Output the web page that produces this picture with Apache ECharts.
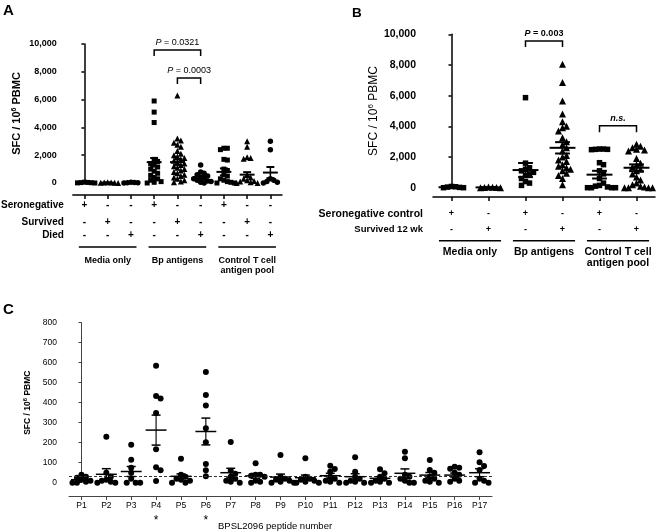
<!DOCTYPE html>
<html><head><meta charset="utf-8">
<script src="https://cdn.jsdelivr.net/npm/echarts@6/dist/echarts.min.js"></script>
<style>html,body{margin:0;padding:0;background:#fff}#c{width:660px;height:532px}</style>
</head><body><div id="c"></div>
<script>
// ---------- DATA ----------
// Panel A
const aRowNames = ['Seronegative', 'Survived', 'Died'];
const aRowSero = ['+', '-', '-', '+', '-', '-', '+', '-', '-'];
const aRowSurv = ['-', '+', '-', '-', '+', '-', '-', '+', '-'];
const aRowDied = ['-', '-', '+', '-', '-', '+', '-', '-', '+'];
const aGroups = ['Media only', 'Bp antigens', 'Control T cell\nantigen pool'];
const aSymbols = ['rect', 'triangle', 'circle', 'rect', 'triangle', 'circle', 'rect', 'triangle', 'circle'];
const aValues = [
  [60, 40, 30, 20, 10, 0],
  [50, 40, 30, 20, 10, 0],
  [50, 30, 20, 10, 0],
  [5900, 5100, 4350, 1700, 1550, 1400, 1300, 1150, 1000, 850, 700, 550, 400, 300, 200, 100, 50, 0],
  [6300, 3200, 3050, 2900, 2750, 2600, 2300, 2100, 2000, 1900, 1800, 1700, 1600, 1500, 1400, 1300, 1200, 1100, 1000, 900, 800, 700, 600, 500, 400, 300, 200, 100, 50],
  [1300, 800, 700, 600, 500, 400, 350, 300, 200, 150, 100, 50, 0],
  [2500, 2500, 2400, 1700, 1650, 1000, 900, 600, 500, 300, 200, 100, 50, 0, 0],
  [3000, 2600, 1850, 1800, 1750, 600, 400, 300, 200, 150, 100, 50, 0, 0],
  [3000, 2400, 300, 200, 100, 50, 0]
];
const aMeans = [25, 25, 20, 1500, 1500, 430, 800, 600, 750];
const aSems = [8, 8, 8, 300, 200, 100, 250, 180, 400];
const aBrackets = [[3, 5, 9570, 9140, '{i|P} = 0.0321'], [4, 5, 7550, 7120, '{i|P} = 0.0003']];

// Panel B
const bRowNames = ['Seronegative control', 'Survived 12 wk'];
const bRowSero = ['+', '-', '+', '-', '+', '-'];
const bRowSurv = ['-', '+', '-', '+', '-', '+'];
const bGroups = ['Media only', 'Bp antigens', 'Control T cell\nantigen pool'];
const bSymbols = ['rect', 'triangle', 'rect', 'triangle', 'rect', 'triangle'];
const bValues = [
  [80, 60, 40, 20, 0, 0],
  [50, 30, 20, 10, 0, 0],
  [5870, 1600, 1300, 1200, 1100, 1000, 900, 800, 600, 400, 300, 150],
  [8040, 6850, 5650, 4800, 4300, 4000, 3900, 3700, 3250, 3000, 2800, 2600, 2400, 2100, 2000, 1800, 1700, 1500, 1400, 1300, 1200, 1100, 950, 800, 600, 200],
  [2520, 2520, 2500, 2500, 2480, 1630, 1500, 1100, 900, 600, 300, 150, 100, 50, 0, 0, 0, 0],
  [2830, 2700, 2600, 2500, 2450, 2400, 1900, 1600, 1500, 1350, 1200, 1100, 900, 700, 500, 300, 200, 100, 50, 0, 0, 0, 0]
];
const bMeans = [30, 20, 1150, 2600, 850, 1300];
const bSems = [10, 8, 460, 370, 250, 220];
const bBrackets = [[2, 3, 9560, 9170, '{i|P} = 0.003'], [4, 5, 4040, 3610, '{i|n.s.}']];

// Panel C
const cPeptides = ['P1', 'P2', 'P3', 'P4', 'P5', 'P6', 'P7', 'P8', 'P9', 'P10', 'P11', 'P12', 'P13', 'P14', 'P15', 'P16', 'P17'];
const cStars = ['', '', '', '*', '', '*', '', '', '', '', '', '', '', '', '', '', ''];
const cValues = [
  [40, 30, 25, 15, 10, 5, 0, 0],
  [230, 50, 30, 15, 10, 5, 0, 0],
  [190, 115, 75, 50, 20, 0, 0, 0],
  [585, 433, 421, 349, 167, 77, 62, 8],
  [120, 40, 30, 20, 15, 10, 0, 0],
  [553, 439, 386, 272, 202, 94, 62, 32],
  [204, 60, 45, 30, 20, 10, 5, 0],
  [97, 40, 40, 35, 30, 10, 5, 0],
  [139, 30, 20, 15, 10, 5, 0, 0],
  [122, 30, 20, 15, 10, 5, 0, 0],
  [85, 68, 55, 30, 20, 10, 5, 0],
  [127, 55, 30, 20, 10, 5, 0, 0],
  [67, 47, 30, 20, 10, 5, 0, 0],
  [155, 122, 40, 30, 20, 10, 0, 0],
  [114, 64, 50, 30, 20, 10, 5, 0],
  [80, 75, 70, 50, 40, 20, 10, 5],
  [152, 102, 84, 64, 20, 10, 0, 0]
];
const cMeans = [15, 42, 56, 263, 32, 256, 50, 34, 28, 25, 35, 30, 22, 47, 38, 38, 50];
const cSems = [6, 28, 25, 75, 12, 67, 22, 12, 15, 13, 12, 15, 8, 22, 13, 10, 20];
const cThreshold = 30;

// ---------- HELPERS ----------
const FONT = 'Arial, "Liberation Sans", sans-serif';
const BLACK = '#000';

// deterministic dot-plot spreading (like GraphPad scatter dot plots)
function swarm(vals, pxPerUnitY, pxPerCat, stepPx, rowPx) {
  const idx = vals.map((v, i) => i).sort((a, b) => vals[b] - vals[a]);
  const placed = [];
  const out = new Array(vals.length);
  for (const i of idx) {
    const ypx = vals[i] * pxPerUnitY;
    for (let k = 0; k < 100; k++) {
      const col = k === 0 ? 0 : (k % 2 ? (k + 1) / 2 : -k / 2);
      if (!placed.some(p => p.col === col && Math.abs(p.ypx - ypx) < rowPx)) {
        placed.push({ col, ypx });
        out[i] = col * stepPx / pxPerCat;
        break;
      }
    }
  }
  return out;
}

function pointSeries(vals, symbols, xi, yi, pxPerUnitY, pxPerCat, step, row, sizes) {
  const bySym = {};
  vals.forEach((arr, g) => {
    const offs = swarm(arr, pxPerUnitY, pxPerCat, step, row);
    const sym = symbols[g];
    (bySym[sym] = bySym[sym] || []).push(...arr.map((v, i) => [g + offs[i], v]));
  });
  return Object.keys(bySym).map(sym => ({
    type: 'scatter', xAxisIndex: xi, yAxisIndex: yi, symbol: sym, symbolSize: sizes[sym],
    data: bySym[sym], itemStyle: { color: BLACK, opacity: 1 }, silent: true, clip: false, z: 2
  }));
}

function meanSeries(means, sems, xi, yi, halfMean, halfCap, lw) {
  return {
    type: 'custom', xAxisIndex: xi, yAxisIndex: yi, clip: false, silent: true, z: 5,
    data: means.map((m, i) => [i, m, sems[i]]),
    encode: { x: 0, y: 1 },
    renderItem: (params, api) => {
      const x = api.value(0), m = api.value(1), s = api.value(2);
      const pm = api.coord([x, m]), pu = api.coord([x, m + s]), pl = api.coord([x, Math.max(0, m - s)]);
      const wm = api.size([halfMean, 0])[0], wc = api.size([halfCap, 0])[0];
      const st = { stroke: BLACK, lineWidth: lw };
      return { type: 'group', children: [
        { type: 'line', shape: { x1: pm[0] - wm, y1: pm[1], x2: pm[0] + wm, y2: pm[1] }, style: st },
        { type: 'line', shape: { x1: pu[0] - wc, y1: pu[1], x2: pu[0] + wc, y2: pu[1] }, style: st },
        { type: 'line', shape: { x1: pl[0] - wc, y1: pl[1], x2: pl[0] + wc, y2: pl[1] }, style: st },
        { type: 'line', shape: { x1: pm[0], y1: pu[1], x2: pm[0], y2: pl[1] }, style: { stroke: BLACK, lineWidth: lw * 0.75 } }
      ] };
    }
  };
}

function bracketSeries(brackets, xi, yi, fontSize, fontWeight) {
  return {
    type: 'custom', xAxisIndex: xi, yAxisIndex: yi, clip: false, silent: true, z: 5,
    data: brackets.map((b, i) => [b[0], b[2], i]),
    encode: { x: 0, y: 1 },
    renderItem: (params, api) => {
      const b = brackets[params.dataIndex];
      const p1 = api.coord([b[0], b[2]]), p2 = api.coord([b[1], b[2]]);
      const a1 = api.coord([b[0], b[3]]);
      return { type: 'group', children: [
        { type: 'polyline', shape: { points: [[p1[0], a1[1]], [p1[0], p1[1]], [p2[0], p2[1]], [p2[0], a1[1]]] }, style: { stroke: BLACK, lineWidth: 1.5, fill: null } },
        { type: 'text', style: { text: b[4], x: (p1[0] + p2[0]) / 2, y: p1[1] - 3, align: 'center', verticalAlign: 'bottom',
          fontFamily: FONT, fontSize, fontWeight, fill: BLACK,
          rich: { i: { fontStyle: 'italic', fontFamily: FONT, fontSize, fontWeight, fill: BLACK } } } }
      ] };
    }
  };
}

function groupLineSeries(centers, halfW, offPx, xi, yi) {
  return {
    type: 'custom', xAxisIndex: xi, yAxisIndex: yi, clip: false, silent: true,
    data: centers.map(c => [c, 0]),
    encode: { x: 0, y: 1 },
    renderItem: (params, api) => {
      const c = api.value(0);
      const l = api.coord([c - halfW, 0]), r = api.coord([c + halfW, 0]);
      return { type: 'line', shape: { x1: l[0], y1: l[1] + offPx, x2: r[0], y2: r[1] + offPx }, style: { stroke: BLACK, lineWidth: 1.5 } };
    }
  };
}

function rowAxis(gridIndex, labels, offset, name, fontSize, nameGap, nameSize) {
  return {
    type: 'category', gridIndex, data: labels, position: 'bottom', offset, silent: true,
    axisLine: { show: false }, axisTick: { show: false }, splitLine: { show: false },
    axisLabel: { interval: 0, margin: 0, verticalAlign: 'middle', fontFamily: FONT, fontWeight: 'bold', fontSize, color: BLACK },
    name, nameLocation: 'start', nameGap,
    nameTextStyle: { fontFamily: FONT, fontWeight: 'bold', fontSize: nameSize || fontSize, color: BLACK, align: 'right', verticalAlign: 'middle' }
  };
}

function groupAxis(gridIndex, labels, offset, fontSize, lineHeight) {
  return {
    type: 'category', gridIndex, data: labels, position: 'bottom', offset, silent: true,
    axisLine: { show: false }, axisTick: { show: false },
    axisLabel: { interval: 0, margin: 0, verticalAlign: 'top', lineHeight, fontFamily: FONT, fontWeight: 'bold', fontSize, color: BLACK }
  };
}

function visibleCatAxis(gridIndex, n, offset, labels, labelStyle, lineColor, lw) {
  return {
    type: 'category', gridIndex, data: labels || new Array(n).fill(''), position: 'bottom', offset, silent: true,
    axisLine: { show: true, lineStyle: { color: lineColor, width: lw } },
    axisTick: { show: true, alignWithLabel: true, length: 4, lineStyle: { color: lineColor, width: lw } },
    axisLabel: labelStyle || { show: false }
  };
}

function hiddenValueX(gridIndex, n) {
  return { type: 'value', gridIndex, min: -0.5, max: n - 0.5, show: false };
}

const commaFmt = v => String(v).replace(/\B(?=(\d{3})+(?!\d))/g, ',');

function yAxisCfg(gridIndex, max, interval, offset, labelSize, labelWeight, nameSize, nameWeight, supSize, nameGap, lineColor, lw) {
  return {
    type: 'value', gridIndex, min: 0, max, interval, offset,
    axisLine: { show: true, lineStyle: { color: lineColor, width: lw } },
    axisTick: { show: true, length: 3, lineStyle: { color: lineColor, width: lw } },
    splitLine: { show: false },
    axisLabel: { fontFamily: FONT, fontWeight: labelWeight, fontSize: labelSize, color: BLACK, margin: 4, formatter: commaFmt },
    name: '{b|SFC / 10}{s|6}{b| PBMC}', nameLocation: 'middle', nameRotate: 90, nameGap,
    nameTextStyle: { fontFamily: FONT, fontSize: nameSize, fontWeight: nameWeight, color: BLACK,
      rich: {
        b: { fontFamily: FONT, fontSize: nameSize, fontWeight: nameWeight, color: BLACK, lineHeight: nameSize + 2 },
        s: { fontFamily: FONT, fontSize: supSize, fontWeight: nameWeight, color: BLACK, lineHeight: supSize, verticalAlign: 'top' }
      } }
  };
}

// ---------- LAYOUT ----------
const gA = { left: 72, top: 44, width: 210, height: 139 };
const gB = { left: 433, top: 34.3, width: 222, height: 153.4 };
const gC = { left: 69, top: 322.7, width: 423, height: 160 };

const xAxes = [
  // panel A: 0..5
  hiddenValueX(0, 9),
  visibleCatAxis(0, 9, 12, null, null, BLACK, 1.5),
  rowAxis(0, aRowSero, 22.7, aRowNames[0], 10, 9),
  rowAxis(0, aRowSurv, 39, aRowNames[1], 10, 9),
  rowAxis(0, aRowDied, 52, aRowNames[2], 10, 9),
  groupAxis(0, aGroups, 72, 9, 10.5),
  // panel B: 6..10
  hiddenValueX(1, 6),
  visibleCatAxis(1, 6, 9.3, null, null, BLACK, 1.5),
  rowAxis(1, bRowSero, 26.3, bRowNames[0], 9, 10, 10.5),
  rowAxis(1, bRowSurv, 41.6, bRowNames[1], 9, 10, 9.5),
  groupAxis(1, bGroups, 58.8, 10.5, 11),
  // panel C: 11..13
  hiddenValueX(2, 17),
  visibleCatAxis(2, 17, 13.3, cPeptides, { interval: 0, margin: 5, fontFamily: FONT, fontSize: 8.5, color: BLACK }, '#444', 1),
  { type: 'category', gridIndex: 2, data: cStars, position: 'bottom', offset: 38, silent: true,
    axisLine: { show: false }, axisTick: { show: false },
    axisLabel: { interval: 0, margin: 0, verticalAlign: 'middle', fontFamily: FONT, fontSize: 12, color: BLACK } }
];

const yAxes = [
  yAxisCfg(0, 10000, 2000, 12, 9, 'bold', 11, 'bold', 7, 37, BLACK, 1.5),
  yAxisCfg(1, 10000, 2000, 13, 10.5, 'bold', 12, 'normal', 8, 39, BLACK, 1.5),
  yAxisCfg(2, 800, 100, 8, 8.5, 'normal', 8.5, 'bold', 6, 27, '#444', 1)
];

const series = [
  ...pointSeries(aValues, aSymbols, 0, 0, 139 / 10000, 23.4, 3.5, 4.5, { rect: 5, triangle: 6, circle: 5.5 }),
  meanSeries(aMeans, aSems, 0, 0, 0.32, 0.17, 2),
  bracketSeries(aBrackets, 0, 0, 9, 'normal'),
  groupLineSeries([1, 4, 7], 1.24, 64, 0, 0),

  ...pointSeries(bValues, bSymbols, 6, 1, 153.4 / 10000, 37, 4, 5, { rect: 5.5, triangle: 7, circle: 6 }),
  meanSeries(bMeans, bSems, 6, 1, 0.35, 0.2, 2),
  bracketSeries(bBrackets, 6, 1, 9, 'bold'),
  groupLineSeries([0.5, 2.5, 4.5], 0.84, 53, 6, 1),

  ...pointSeries(cValues, cValues.map(() => 'circle'), 11, 2, 160 / 800, 24.9, 4.5, 4.5, { circle: 6 }),
  meanSeries(cMeans, cSems, 11, 2, 0.42, 0.18, 1.5),
  { type: 'line', xAxisIndex: 11, yAxisIndex: 2, data: [], silent: true,
    markLine: { silent: true, symbol: 'none', animation: false, label: { show: false },
      lineStyle: { type: [3, 2], color: '#333', width: 1 }, data: [{ yAxis: cThreshold }] } }
];

const titleStyle = (size, weight) => ({ fontFamily: FONT, fontSize: size, fontWeight: weight, color: BLACK });
const option = {
  animation: false,
  backgroundColor: '#fff',
  textStyle: { fontFamily: FONT },
  title: [
    { text: 'A', left: 3, top: 3.5, padding: 0, textStyle: titleStyle(15, 'bold') },
    { text: 'B', left: 352, top: 6, padding: 0, textStyle: titleStyle(13.5, 'bold') },
    { text: 'C', left: 3, top: 302, padding: 0, textStyle: titleStyle(15, 'bold') },
    { text: 'BPSL2096 peptide number', left: 218, top: 521, padding: 0, textStyle: titleStyle(9.5, 'normal') }
  ],
  grid: [gA, gB, gC],
  xAxis: xAxes,
  yAxis: yAxes,
  series
};

const chart = echarts.init(document.getElementById('c'), null, { renderer: 'canvas' });
chart.setOption(option);
</script>
</body></html>
